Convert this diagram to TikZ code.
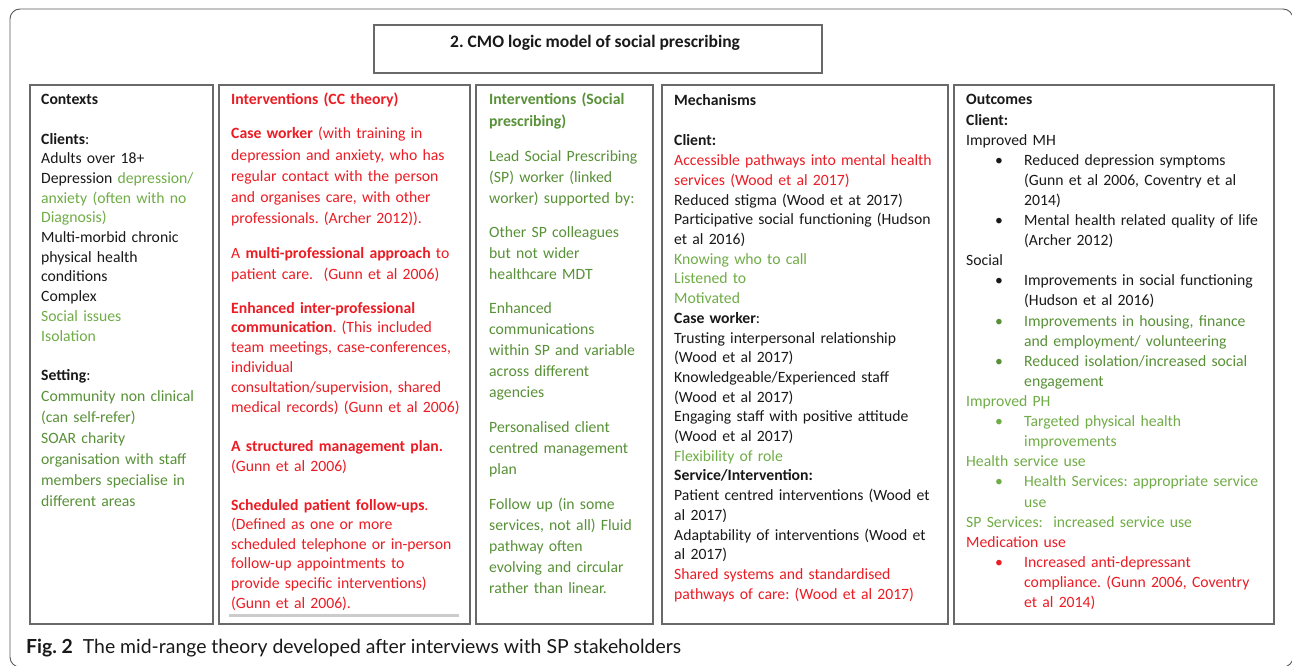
\documentclass[tikz,border=0pt]{standalone}
\usepackage{fontspec}
\setmainfont{Carlito}
\newfontfamily\capfont{Lato}
\frenchspacing

\definecolor{cmored}{RGB}{236,28,36}
\definecolor{lgreen}{RGB}{112,173,71}
\definecolor{dgreen}{RGB}{88,145,55}
\definecolor{txtblack}{RGB}{25,25,25}
\definecolor{boxgray}{RGB}{105,105,105}

% bullet and continuation indent for the outcomes column
\newcommand{\bul}{\hspace*{29pt}\makebox[29pt][l]{\textbullet}}
\newcommand{\cont}{\hspace*{58pt}}

\begin{document}
\begin{tikzpicture}[x=1pt, y=-1pt,
    colbox/.style={draw=boxgray, line width=1.6pt},
    cell/.style 2 args={anchor=base west, inner sep=0pt, align=left,
      text width=#1, font=\fontsize{15.7}{#2}\selectfont, text=txtblack}]

  \useasboundingbox (0,0) rectangle (1292,666);
  \fill[white] (0,0) rectangle (1292,666);
  \draw[gray!70!black, line width=0.9pt, rounded corners=10pt] (10,9) rectangle (1293,667);

  % title box
  \draw[colbox, line width=1.3pt] (374,25) rectangle (822,73);
  \node[anchor=base west, inner sep=0pt, text=txtblack,
    font=\bfseries\fontsize{17.5}{20}\selectfont] (title) at (450,48)
    {2. CMO logic model of social prescribing};

  % the five columns
  \foreach \xa/\xb in {30/213, 219/470, 476/653, 662/948, 954/1274}{
      \draw[colbox] (\xa,85) rectangle (\xb,624);
    }
  \draw[gray!40, line width=3pt] (229,615) -- (459,615);

  % contexts
  \node[cell={190pt}{19.7pt}] (c1head) at (41,105) {\textbf{Contexts}};
  \node[cell={190pt}{19.7pt}] (c1clients) at (41,144) {%
    \textbf{Clients}:\\
    Adults over 18+\\
    Depression {\color{lgreen}depression/}\\
    {\color{lgreen}anxiety (often with no}\\
    {\color{lgreen}Diagnosis)}\\
    Multi-morbid chronic\\
    physical health\\
    conditions\\
    Complex\\
    {\color{lgreen}Social issues}\\
    {\color{lgreen}Isolation}};
  \node[cell={190pt}{21pt}] (c1setting) at (41,380) {%
    \textbf{Setting}:\\
    {\color{dgreen}Community non clinical}\\
    {\color{dgreen}(can self-refer)}\\
    {\color{dgreen}SOAR charity}\\
    {\color{dgreen}organisation with staff}\\
    {\color{dgreen}members specialise in}\\
    {\color{dgreen}different areas}};

  % interventions (CC theory)
  \node[cell={260pt}{21pt}, text=cmored] (c2head) at (231,105)
    {\textbf{Interventions (CC theory)}};
  \node[cell={260pt}{21.2pt}, text=cmored] (c2case) at (231,139) {%
    \textbf{Case worker} (with training in\\
    depression and anxiety, who has\\
    regular contact with the person\\
    and organises care, with other\\
    professionals. (Archer 2012)).};
  \node[cell={260pt}{21pt}, text=cmored] (c2multi) at (231,258) {%
    A \textbf{multi-professional approach} to\\
    patient care.\ \ (Gunn et al 2006)};
  \node[cell={260pt}{19.8pt}, text=cmored] (c2comm) at (231,313) {%
    \textbf{Enhanced inter-professional}\\
    \textbf{communication}. (This included\\
    team meetings, case-conferences,\\
    individual\\
    consultation/supervision, shared\\
    medical records) (Gunn et al 2006)};
  \node[cell={260pt}{20pt}, text=cmored] (c2plan) at (231,451) {%
    \textbf{A structured management plan.}\\
    (Gunn et al 2006)};
  \node[cell={260pt}{19.6pt}, text=cmored] (c2follow) at (231,510) {%
    \textbf{Scheduled patient follow-ups}.\\
    (Defined as one or more\\
    scheduled telephone or in-person\\
    follow-up appointments to\\
    provide specific interventions)\\
    (Gunn et al 2006).};

  % interventions (social prescribing)
  \node[cell={185pt}{21.1pt}, text=dgreen] (c3head) at (489,105) {%
    \textbf{Interventions (Social}\\
    \textbf{prescribing)}};
  \node[cell={185pt}{21.1pt}, text=dgreen] (c3lead) at (489,161) {%
    Lead Social Prescribing\\
    (SP) worker (linked\\
    worker) supported by:};
  \node[cell={185pt}{21.1pt}, text=dgreen] (c3other) at (489,237) {%
    Other SP colleagues\\
    but not wider\\
    healthcare MDT};
  \node[cell={185pt}{21.1pt}, text=dgreen] (c3comm) at (489,313) {%
    Enhanced\\
    communications\\
    within SP and variable\\
    across different\\
    agencies};
  \node[cell={185pt}{21.1pt}, text=dgreen] (c3plan) at (489,432) {%
    Personalised client\\
    centred management\\
    plan};
  \node[cell={185pt}{21.1pt}, text=dgreen] (c3follow) at (489,509) {%
    Follow up (in some\\
    services, not all) Fluid\\
    pathway often\\
    evolving and circular\\
    rather than linear.};

  % mechanisms
  \node[cell={290pt}{19.7pt}] (c4head) at (674,106) {\textbf{Mechanisms}};
  \node[cell={290pt}{19.7pt}] (c4body) at (674,146) {%
    \textbf{Client:}\\
    {\color{cmored}Accessible pathways into mental health}\\
    {\color{cmored}services (Wood et al 2017)}\\
    Reduced stigma (Wood et at 2017)\\
    Participative social functioning (Hudson\\
    et al 2016)\\
    {\color{lgreen}Knowing who to call}\\
    {\color{lgreen}Listened to}\\
    {\color{lgreen}Motivated}\\
    \textbf{Case worker}:\\
    Trusting interpersonal relationship\\
    (Wood et al 2017)\\
    Knowledgeable/Experienced staff\\
    (Wood et al 2017)\\
    Engaging staff with positive attitude\\
    (Wood et al 2017)\\
    {\color{lgreen}Flexibility of role}\\
    \textbf{Service/Intervention:}\\
    Patient centred interventions (Wood et\\
    al 2017)\\
    Adaptability of interventions (Wood et\\
    al 2017)\\
    {\color{cmored}Shared systems and standardised}\\
    {\color{cmored}pathways of care: (Wood et al 2017)}};

  % outcomes
  \node[cell={320pt}{20.1pt}] (c5body) at (966,105) {%
    \textbf{Outcomes}\\
    \textbf{Client:}\\
    Improved MH\\
    \bul Reduced depression symptoms\\
    \cont (Gunn et al 2006, Coventry et al\\
    \cont 2014)\\
    \bul Mental health related quality of life\\
    \cont (Archer 2012)\\
    Social\\
    \bul Improvements in social functioning\\
    \cont (Hudson et al 2016)\\
    {\color{dgreen}\bul Improvements in housing, finance}\\
    {\color{dgreen}\cont and employment/ volunteering}\\
    {\color{dgreen}\bul Reduced isolation/increased social}\\
    {\color{dgreen}\cont engagement}\\
    {\color{lgreen}Improved PH}\\
    {\color{lgreen}\bul Targeted physical health}\\
    {\color{lgreen}\cont improvements}\\
    {\color{lgreen}Health service use}\\
    {\color{lgreen}\bul Health Services: appropriate service}\\
    {\color{lgreen}\cont use}\\
    {\color{lgreen}SP Services:\ \ increased service use}\\
    {\color{cmored}Medication use}\\
    {\color{cmored}\bul Increased anti-depressant}\\
    {\color{cmored}\cont compliance. (Gunn 2006, Coventry}\\
    {\color{cmored}\cont et al 2014)}};

  % caption
  \node[anchor=base west, inner sep=0pt, text=txtblack,
    font=\capfont\fontsize{19.4}{22}\selectfont] (caption) at (26,653)
    {\textbf{Fig. 2}\hspace{10pt}The mid-range theory developed after interviews with SP stakeholders};

\end{tikzpicture}
\end{document}
